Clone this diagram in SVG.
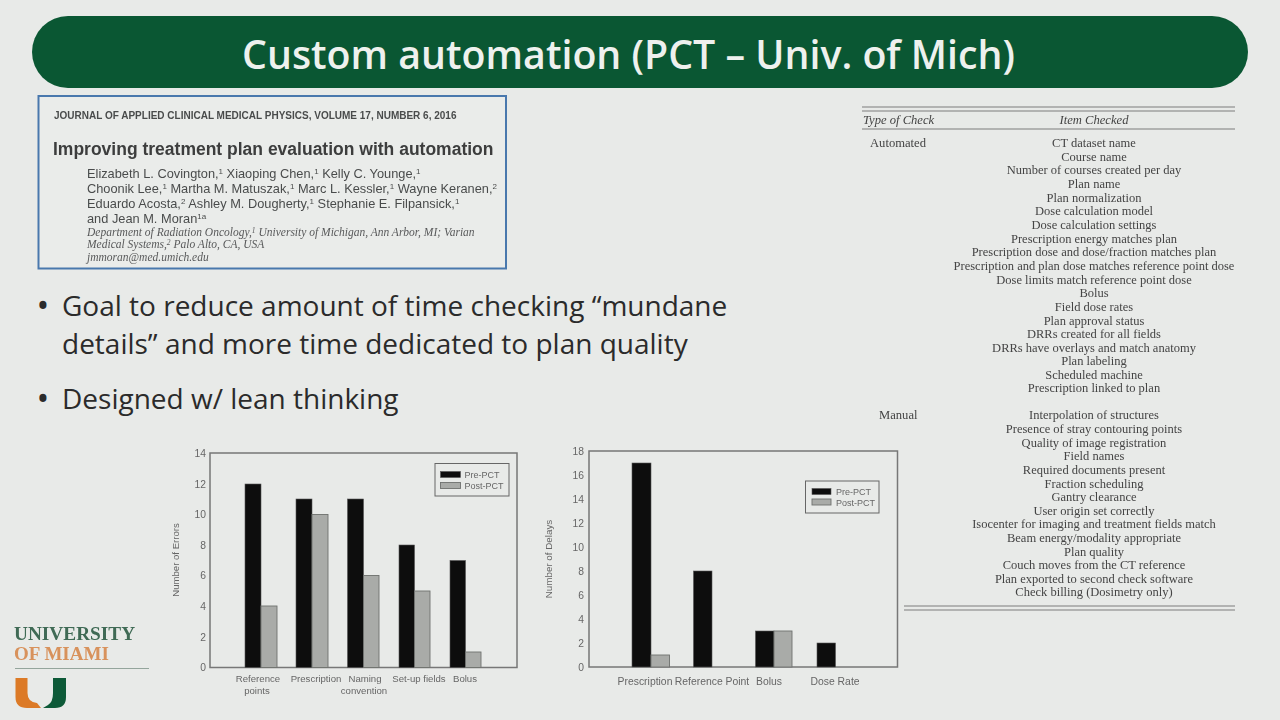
<svg xmlns="http://www.w3.org/2000/svg" width="1280" height="720" viewBox="0 0 1280 720">
<defs>
<filter id="soft" x="-5%" y="-5%" width="110%" height="110%"><feGaussianBlur stdDeviation="0.4"/></filter>
</defs>
<style>
.sans{font-family:"Liberation Sans",Arial,sans-serif}
.serif{font-family:"Liberation Serif","Times New Roman",serif}
.open{font-family:"Open Sans","Noto Sans",sans-serif}
.auth{font-size:12.8px;fill:#4a4c4c}
.aff{font-size:11.5px;font-style:italic;fill:#58595a}
.body{font-size:28px;fill:#2b2b2b}
.bul{font-size:34px;fill:#2b2b2b}
.tick{font-size:10.3px;fill:#666;text-anchor:end}
.cat{font-size:9.6px;fill:#666;text-anchor:middle}
.cat2{font-size:10.4px;fill:#666;text-anchor:middle}
.leg{font-size:9px;fill:#666}
.row{font-size:12.5px;fill:#444;text-anchor:middle}
.hd{font-size:12.6px;fill:#444}
.frame{fill:none;stroke:#777;stroke-width:1.5}
.pre{fill:#0d0f0e;stroke:#555;stroke-width:.6}
.post{fill:#a9aba8;stroke:#6f716f;stroke-width:.9}
.rule{stroke:#7d7f7d;stroke-width:1.2}
</style>
<rect width="1280" height="720" fill="#e8eae8"/>
<g id="title">
<rect x="32" y="16" width="1216" height="72" rx="36" fill="#0a5733"/>
<text x="628.500" y="68.500" text-anchor="middle" class="open" font-size="39.300" font-weight="600" fill="#eef1ee">Custom automation (PCT – Univ. of Mich)</text>
</g>
<g id="paper" filter="url(#soft)">
<rect x="38.500" y="96" width="467.500" height="172.500" fill="#eaecea" stroke="#4a78ad" stroke-width="2"/>
<text x="54" y="119" class="sans" font-size="10" font-weight="700" fill="#4a4c4c">JOURNAL OF APPLIED CLINICAL MEDICAL PHYSICS, VOLUME 17, NUMBER 6, 2016</text>
<text x="53" y="155" class="sans" font-size="17.500" font-weight="700" fill="#3c3e3e">Improving treatment plan evaluation with automation</text>
<text x="87" y="178" class="sans auth">Elizabeth L. Covington,<tspan dy="-4" font-size="8">1</tspan><tspan dy="4"> Xiaoping Chen,</tspan><tspan dy="-4" font-size="8">1</tspan><tspan dy="4"> Kelly C. Younge,</tspan><tspan dy="-4" font-size="8">1</tspan></text>
<text x="87" y="193" class="sans auth">Choonik Lee,<tspan dy="-4" font-size="8">1</tspan><tspan dy="4"> Martha M. Matuszak,</tspan><tspan dy="-4" font-size="8">1</tspan><tspan dy="4"> Marc L. Kessler,</tspan><tspan dy="-4" font-size="8">1</tspan><tspan dy="4"> Wayne Keranen,</tspan><tspan dy="-4" font-size="8">2</tspan></text>
<text x="87" y="208" class="sans auth">Eduardo Acosta,<tspan dy="-4" font-size="8">2</tspan><tspan dy="4"> Ashley M. Dougherty,</tspan><tspan dy="-4" font-size="8">1</tspan><tspan dy="4"> Stephanie E. Filpansick,</tspan><tspan dy="-4" font-size="8">1</tspan></text>
<text x="87" y="223" class="sans auth">and Jean M. Moran<tspan dy="-4" font-size="8">1a</tspan></text>
<text x="87" y="235.500" class="serif aff">Department of Radiation Oncology,<tspan dy="-3" font-size="7.500">1</tspan><tspan dy="3"> University of Michigan, Ann Arbor, MI; Varian</tspan></text>
<text x="87" y="248" class="serif aff">Medical Systems,<tspan dy="-3" font-size="7.500">2</tspan><tspan dy="3"> Palo Alto, CA, USA</tspan></text>
<text x="87" y="260.500" class="serif aff">jmmoran@med.umich.edu</text>
</g>
<g id="bullets">
<text x="36.500" y="318" class="open bul">•</text>
<text x="62" y="316" class="open body">Goal to reduce amount of time checking “mundane</text>
<text x="62" y="354" class="open body">details” and more time dedicated to plan quality</text>
<text x="36.500" y="411" class="open bul">•</text>
<text x="62" y="409" class="open body">Designed w/ lean thinking</text>
</g>
<g id="chart-errors" filter="url(#soft)">
<rect x="210" y="453" width="307" height="214.500" class="frame"/>
<g class="sans">
<text x="206" y="457" class="tick">14</text><text x="206" y="487.600" class="tick">12</text><text x="206" y="518.200" class="tick">10</text><text x="206" y="548.800" class="tick">8</text><text x="206" y="579.400" class="tick">6</text><text x="206" y="610" class="tick">4</text><text x="206" y="640.600" class="tick">2</text><text x="206" y="671.200" class="tick">0</text>
<text transform="translate(179 560) rotate(-90)" text-anchor="middle" font-size="9.600" fill="#666">Number of Errors</text>
<text x="258" y="682" class="cat">Reference</text><text x="257" y="694" class="cat">points</text>
<text x="316" y="682" class="cat">Prescription</text>
<text x="365" y="682" class="cat">Naming</text><text x="364" y="694" class="cat">convention</text>
<text x="419" y="682" class="cat">Set-up fields</text>
<text x="465" y="682" class="cat">Bolus</text>
</g>
<rect x="245" y="484" width="16" height="183.500" class="pre"/><rect x="261" y="606" width="16" height="61.500" class="post"/>
<rect x="296" y="499" width="16" height="168.500" class="pre"/><rect x="312" y="514.500" width="16" height="153" class="post"/>
<rect x="347.500" y="499" width="16" height="168.500" class="pre"/><rect x="363.500" y="575.500" width="15.500" height="92" class="post"/>
<rect x="399" y="545" width="15.500" height="122.500" class="pre"/><rect x="414.500" y="591" width="15.500" height="76.500" class="post"/>
<rect x="450" y="560.500" width="15.500" height="107" class="pre"/><rect x="465.500" y="652" width="15.500" height="15.500" class="post"/>
<rect x="435" y="463.500" width="74" height="32.500" fill="#e8eae8" stroke="#666" stroke-width="1"/>
<rect x="440.500" y="471.500" width="20" height="6" class="pre"/><rect x="440.500" y="482.500" width="20" height="6" class="post"/>
<text x="464.500" y="477.500" class="sans leg">Pre-PCT</text><text x="464.500" y="488.500" class="sans leg">Post-PCT</text>
</g>
<g id="chart-delays" filter="url(#soft)">
<rect x="589" y="451" width="308.500" height="216" class="frame"/>
<g class="sans">
<text x="584" y="455" class="tick">18</text><text x="584" y="479" class="tick">16</text><text x="584" y="503" class="tick">14</text><text x="584" y="527" class="tick">12</text><text x="584" y="551" class="tick">10</text><text x="584" y="575" class="tick">8</text><text x="584" y="599" class="tick">6</text><text x="584" y="623" class="tick">4</text><text x="584" y="647" class="tick">2</text><text x="584" y="671" class="tick">0</text>
<text transform="translate(552 559) rotate(-90)" text-anchor="middle" font-size="9.800" fill="#666">Number of Delays</text>
<text x="645" y="685" class="cat2">Prescription</text>
<text x="712" y="685" class="cat2">Reference Point</text>
<text x="769" y="685" class="cat2">Bolus</text>
<text x="835" y="685" class="cat2">Dose Rate</text>
</g>
<rect x="632" y="463" width="19" height="204" class="pre"/><rect x="651" y="655" width="18.500" height="12" class="post"/>
<rect x="693.500" y="571" width="18.500" height="96" class="pre"/>
<rect x="755.500" y="631" width="18.500" height="36" class="pre"/><rect x="774" y="631" width="18" height="36" class="post"/>
<rect x="817" y="643" width="18.500" height="24" class="pre"/>
<rect x="805.500" y="481" width="73.500" height="32" fill="#e8eae8" stroke="#666" stroke-width="1"/>
<rect x="812" y="488.500" width="19" height="6" class="pre"/><rect x="812" y="499" width="19" height="6" class="post"/>
<text x="836" y="495" class="sans leg">Pre-PCT</text><text x="836" y="505.500" class="sans leg">Post-PCT</text>
</g>
<g id="table" filter="url(#soft)" class="serif">
<line x1="862" y1="107" x2="1235" y2="107" class="rule"/>
<line x1="862" y1="111" x2="1235" y2="111" class="rule"/>
<line x1="862" y1="129" x2="1235" y2="129" class="rule"/>
<text x="863" y="124" class="hd" font-style="italic">Type of Check</text>
<text x="1094" y="124" class="hd" font-style="italic" text-anchor="middle">Item Checked</text>
<text x="870" y="147" class="hd">Automated</text>
<text x="879" y="419" class="hd">Manual</text>
<text x="1094" y="147" class="row">CT dataset name</text>
<text x="1094" y="160.500" class="row">Course name</text>
<text x="1094" y="174" class="row">Number of courses created per day</text>
<text x="1094" y="188" class="row">Plan name</text>
<text x="1094" y="201.500" class="row">Plan normalization</text>
<text x="1094" y="215" class="row">Dose calculation model</text>
<text x="1094" y="229" class="row">Dose calculation settings</text>
<text x="1094" y="242.500" class="row">Prescription energy matches plan</text>
<text x="1094" y="256" class="row">Prescription dose and dose/fraction matches plan</text>
<text x="1094" y="270" class="row">Prescription and plan dose matches reference point dose</text>
<text x="1094" y="283.500" class="row">Dose limits match reference point dose</text>
<text x="1094" y="297" class="row">Bolus</text>
<text x="1094" y="311" class="row">Field dose rates</text>
<text x="1094" y="324.500" class="row">Plan approval status</text>
<text x="1094" y="338" class="row">DRRs created for all fields</text>
<text x="1094" y="351.500" class="row">DRRs have overlays and match anatomy</text>
<text x="1094" y="365" class="row">Plan labeling</text>
<text x="1094" y="378.500" class="row">Scheduled machine</text>
<text x="1094" y="392" class="row">Prescription linked to plan</text>
<text x="1094" y="419" class="row">Interpolation of structures</text>
<text x="1094" y="433" class="row">Presence of stray contouring points</text>
<text x="1094" y="446.500" class="row">Quality of image registration</text>
<text x="1094" y="460" class="row">Field names</text>
<text x="1094" y="473.500" class="row">Required documents present</text>
<text x="1094" y="487.500" class="row">Fraction scheduling</text>
<text x="1094" y="501" class="row">Gantry clearance</text>
<text x="1094" y="514.500" class="row">User origin set correctly</text>
<text x="1094" y="528" class="row">Isocenter for imaging and treatment fields match</text>
<text x="1094" y="541.500" class="row">Beam energy/modality appropriate</text>
<text x="1094" y="555.500" class="row">Plan quality</text>
<text x="1094" y="569" class="row">Couch moves from the CT reference</text>
<text x="1094" y="582.500" class="row">Plan exported to second check software</text>
<text x="1094" y="596" class="row">Check billing (Dosimetry only)</text>
<line x1="904" y1="606" x2="1235" y2="606" class="rule"/>
<line x1="904" y1="610" x2="1235" y2="610" class="rule"/>
</g>
<g id="logo" filter="url(#soft)">
<text x="14" y="640" class="serif" font-size="19.300" font-weight="700" fill="#3f6b55">UNIVERSITY</text>
<text x="14" y="660" class="serif" font-size="19" font-weight="700" fill="#d8925c">OF MIAMI</text>
<line x1="15" y1="668.500" x2="149" y2="668.500" stroke="#7f9488" stroke-width=".8"/>
<path d="M15.500 678H27.500V693Q27.500 702 37 703L41 708H27Q15.500 708 15.500 697Z" fill="#dc7a26"/>
<path d="M66 678H53V693Q53 702 48 705L43 708H55Q66 708 66 697Z" fill="#0f5a37"/>
</g>
</svg>
